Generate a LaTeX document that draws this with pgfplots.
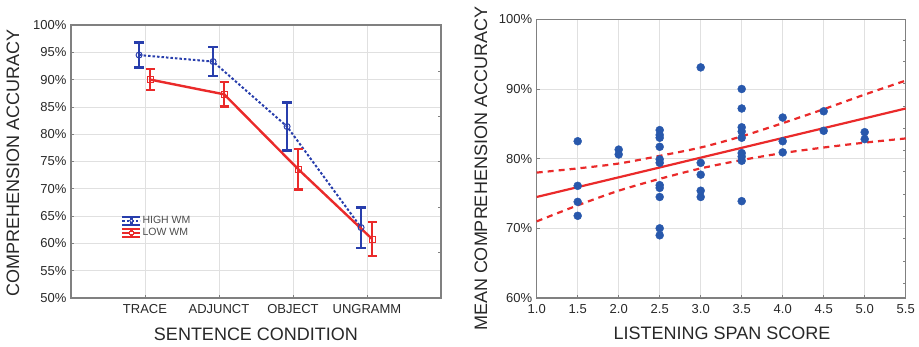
\documentclass[border=0pt]{standalone}
\usepackage{fontspec}
\setmainfont{Liberation Sans}
\usepackage{pgfplots}
\pgfplotsset{compat=1.18}
\usepackage{pgfplotstable}

\definecolor{hiblue}{RGB}{40,62,172}
\definecolor{lored}{RGB}{234,42,42}
\definecolor{dotblue}{RGB}{40,88,172}
\definecolor{gridc}{RGB}{224,224,224}
\definecolor{framec}{RGB}{128,128,128}
\definecolor{txt}{RGB}{40,40,40}

\pgfplotstableread{
x y e
-0.08 94.5 2.3
0.92 93.3 2.7
1.92 81.4 4.4
2.92 62.9 3.7
}\highwm
\pgfplotstableread{
x y e
0.07 90.0 1.9
1.07 87.3 2.2
2.07 73.6 3.7
3.07 60.8 3.1
}\lowwm
\pgfplotstableread{
x y
1.5 82.5
1.5 76.1
1.5 73.8
1.5 71.8
2.0 81.3
2.0 80.6
2.5 84.1
2.5 83.4
2.5 83.0
2.5 81.7
2.5 79.9
2.5 79.4
2.5 76.2
2.5 75.8
2.5 74.5
2.5 70.0
2.5 69.0
3.0 93.1
3.0 79.4
3.0 77.7
3.0 75.4
3.0 74.5
3.5 90.0
3.5 87.2
3.5 84.5
3.5 83.9
3.5 83.0
3.5 80.8
3.5 80.3
3.5 79.7
3.5 73.9
4.0 85.9
4.0 82.5
4.0 80.9
4.5 86.8
4.5 84.0
5.0 83.8
5.0 82.8
}\scatterdata
\pgfplotstableread{
x y
1.0 78.0
1.5 78.6
2.0 79.3
2.5 80.4
3.0 81.6
3.5 83.2
4.0 85.1
4.5 87.1
5.0 89.2
5.5 91.2
}\upperci
\pgfplotstableread{
x y
1.0 71.0
1.5 73.3
2.0 75.4
2.5 77.1
3.0 78.6
3.5 79.8
4.0 80.8
4.5 81.6
5.0 82.3
5.5 82.9
}\lowerci

\pgfplotsset{
  mystyle/.style={
    scale only axis,
    axis line style={framec, line width=1.1bp},
    grid=major,
    major grid style={gridc, line width=0.8bp},
    tick style={framec, line width=0.8bp},
    major tick length=3bp,
    tick align=inside,
    tick pos=left,
    ticklabel style={font=\fontsize{13bp}{15bp}\selectfont, text=txt},
    label style={font=\fontsize{18bp}{21bp}\selectfont, text=txt},
    clip=false,
  },
}

\begin{document}
\begin{tikzpicture}
\useasboundingbox (0,0) rectangle (919bp,-347bp);

% ---------------- left panel ----------------
\begin{axis}[mystyle,
  at={(71bp,-298bp)}, anchor=south west,
  width=370bp, height=273bp,
  xmin=-1, xmax=4, ymin=50, ymax=100,
  xtick={0,1,2,3},
  xticklabels={TRACE,ADJUNCT,OBJECT,UNGRAMM},
  ytick={50,55,60,65,70,75,80,85,90,95,100},
  yticklabels={50\%,55\%,60\%,65\%,70\%,75\%,80\%,85\%,90\%,95\%,100\%},
  xticklabel style={yshift=-3bp},
  yticklabel style={xshift=-1bp},
  xlabel={SENTENCE CONDITION},
  ylabel={COMPREHENSION ACCURACY},
  xlabel style={at={(axis description cs:0.5,-0.132)}, anchor=center},
  ylabel style={at={(axis description cs:-0.157,0.495)}, anchor=center},
  legend style={draw=none, fill=none, at={(axis description cs:0.127,0.311)},
    anchor=north west, font=\fontsize{10.5bp}{12bp}\selectfont,
    text=black!70, row sep=1.5bp,
    nodes={inner sep=1bp}},
  legend cell align=left,
]
\addplot[forget plot, hiblue, line width=2bp, dash pattern=on 2.5bp off 2bp,
  mark=o, mark size=3bp, mark options={solid, line width=1bp, fill=white},
  error bars/.cd, y dir=both, y explicit,
  error bar style={hiblue, line width=2.3bp, solid},
  error mark options={rotate=90, hiblue, line width=2.3bp, mark size=4.6bp, solid}]
  table[x=x, y=y, y error=e] {\highwm};
\addplot[forget plot, lored, line width=2.4bp,
  mark=square, mark size=3bp, mark options={solid, line width=1bp, fill=white},
  error bars/.cd, y dir=both, y explicit,
  error bar style={lored, line width=2.3bp},
  error mark options={rotate=90, lored, line width=2.3bp, mark size=4.6bp}]
  table[x=x, y=y, y error=e] {\lowwm};
\addlegendimage{legend image code/.code={
  \draw[hiblue, line width=2.4bp] (0bp,4bp) -- (18bp,4bp);
  \draw[hiblue, line width=2.4bp] (0bp,-4bp) -- (18bp,-4bp);
  \draw[hiblue, line width=2.4bp] (9bp,-4bp) -- (9bp,4bp);
  \draw[hiblue, line width=2bp, dash pattern=on 2.5bp off 2bp] (0bp,0bp) -- (18bp,0bp);
  \draw[hiblue, fill=white, line width=0.8bp] (9bp,0bp) circle (1.8bp);
}}
\addlegendentry{HIGH WM}
\addlegendimage{legend image code/.code={
  \draw[lored, line width=2.4bp] (0bp,4bp) -- (18bp,4bp);
  \draw[lored, line width=2.4bp] (0bp,-4bp) -- (18bp,-4bp);
  \draw[lored, line width=2.4bp] (9bp,-4bp) -- (9bp,4bp);
  \draw[lored, line width=2.2bp] (0bp,0bp) -- (18bp,0bp);
  \draw[lored, fill=white, line width=0.8bp] (7.3bp,-1.7bp) rectangle (10.7bp,1.7bp);
}}
\addlegendentry{LOW WM}
\end{axis}

% right-side minor ticks of left panel
\begin{axis}[scale only axis,
  at={(71bp,-298bp)}, anchor=south west,
  width=370bp, height=273bp,
  xmin=0, xmax=1, ymin=50, ymax=100,
  hide x axis, axis y line*=right,
  axis line style={draw=none},
  ytick={58.3,66.6,75.0,83.3,91.5}, yticklabels={},
  tick style={framec, line width=0.8bp}, major tick length=3bp, tick align=inside]
\end{axis}

% ---------------- right panel ----------------
\begin{axis}[mystyle,
  at={(536.7bp,-298bp)}, anchor=south west,
  width=369bp, height=278.7bp,
  xmin=1, xmax=5.5, ymin=60, ymax=100,
  xtick={1.0,1.5,2.0,2.5,3.0,3.5,4.0,4.5,5.0,5.5},
  xticklabels={1.0,1.5,2.0,2.5,3.0,3.5,4.0,4.5,5.0,5.5},
  ytick={60,70,80,90,100},
  yticklabels={60\%,70\%,80\%,90\%,100\%},
  xticklabel style={yshift=-3bp},
  yticklabel style={xshift=-1bp},
  xlabel={LISTENING SPAN SCORE},
  ylabel={MEAN COMPREHENSION ACCURACY},
  xlabel style={at={(axis description cs:0.502,-0.126)}, anchor=center},
  ylabel style={at={(axis description cs:-0.151,0.463)}, anchor=center},
]
\addplot[only marks, mark=*, mark size=4bp, dotblue] table[x=x, y=y] {\scatterdata};
\addplot[lored, line width=2.2bp] coordinates {(1.0,74.5) (5.5,87.2)};
\addplot[lored, line width=2.2bp, dash pattern=on 6bp off 5bp, smooth] table[x=x, y=y] {\upperci};
\addplot[lored, line width=2.2bp, dash pattern=on 6bp off 5bp, smooth] table[x=x, y=y] {\lowerci};
\end{axis}

% right-side minor ticks of right panel
\begin{axis}[scale only axis,
  at={(536.7bp,-298bp)}, anchor=south west,
  width=369bp, height=278.7bp,
  xmin=0, xmax=1, ymin=60, ymax=100,
  hide x axis, axis y line*=right,
  axis line style={draw=none},
  ytick={62.1,65.3,68.5,71.7,74.9,78.1,81.2,84.4,87.5,90.8,93.9,97.0}, yticklabels={},
  tick style={framec, line width=0.8bp}, major tick length=3bp, tick align=inside]
\end{axis}
\end{tikzpicture}
\end{document}
